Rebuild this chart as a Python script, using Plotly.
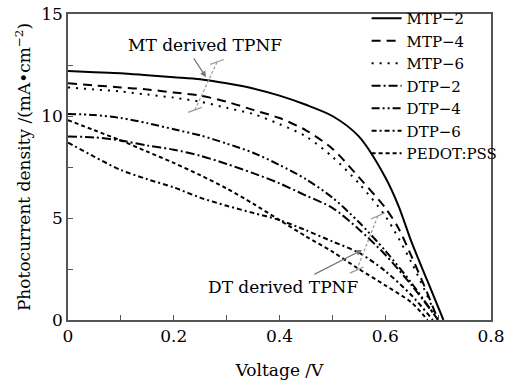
import plotly.graph_objects as go

# J-V curves of the devices (voltage in V, current density in mA/cm^2)
v_mtp2 = [0, 0.05, 0.1, 0.15, 0.2, 0.25, 0.3, 0.35, 0.4, 0.45, 0.5, 0.55, 0.6, 0.625, 0.65, 0.68, 0.71]
j_mtp2 = [12.2, 12.15, 12.1, 12.0, 11.9, 11.8, 11.6, 11.35, 11.0, 10.55, 10.0, 9.0, 7.0, 5.6, 3.8, 1.9, 0]

v_mtp4 = [0, 0.05, 0.1, 0.15, 0.2, 0.25, 0.3, 0.35, 0.4, 0.45, 0.5, 0.55, 0.6, 0.625, 0.65, 0.675, 0.70]
j_mtp4 = [11.6, 11.5, 11.4, 11.3, 11.15, 11.0, 10.7, 10.3, 9.9, 9.3, 8.4, 7.0, 5.5, 4.5, 3.1, 1.6, 0]

v_mtp6 = [0, 0.05, 0.1, 0.15, 0.2, 0.25, 0.3, 0.35, 0.4, 0.45, 0.5, 0.55, 0.6, 0.65, 0.70]
j_mtp6 = [11.4, 11.3, 11.2, 11.05, 10.9, 10.7, 10.4, 10.1, 9.6, 9.0, 8.0, 6.7, 5.1, 2.8, 0]

v_dtp2 = [0, 0.05, 0.1, 0.15, 0.2, 0.25, 0.3, 0.35, 0.4, 0.45, 0.5, 0.55, 0.6, 0.65, 0.70]
j_dtp2 = [9.0, 8.95, 8.8, 8.55, 8.35, 8.05, 7.65, 7.2, 6.7, 6.1, 5.5, 4.45, 3.2, 1.7, 0]

v_dtp4 = [0, 0.05, 0.1, 0.15, 0.2, 0.25, 0.3, 0.35, 0.4, 0.45, 0.5, 0.55, 0.6, 0.65, 0.70]
j_dtp4 = [10.1, 10.05, 9.9, 9.65, 9.35, 9.05, 8.65, 8.2, 7.6, 6.9, 6.0, 4.8, 3.4, 1.8, 0]

v_dtp6 = [0, 0.05, 0.1, 0.15, 0.2, 0.25, 0.3, 0.35, 0.4, 0.45, 0.5, 0.55, 0.6, 0.65, 0.69]
j_dtp6 = [8.7, 8.0, 7.35, 6.9, 6.5, 6.0, 5.6, 5.25, 4.9, 4.4, 3.85, 3.3, 2.4, 1.2, 0]

v_pedot = [0, 0.05, 0.1, 0.15, 0.2, 0.25, 0.3, 0.35, 0.4, 0.45, 0.5, 0.55, 0.6, 0.65, 0.68]
j_pedot = [9.8, 9.3, 8.8, 8.25, 7.7, 7.1, 6.45, 5.7, 4.9, 4.1, 3.35, 2.5, 1.7, 0.85, 0]

series = [
    ("MTP−2", v_mtp2, j_mtp2, "solid"),
    ("MTP−4", v_mtp4, j_mtp4, "9px,6px"),
    ("MTP−6", v_mtp6, j_mtp6, "2px,6px"),
    ("DTP−2", v_dtp2, j_dtp2, "9px,3px,2px,3px"),
    ("DTP−4", v_dtp4, j_dtp4, "8px,3px,2px,3px,2px,3px"),
    ("DTP−6", v_dtp6, j_dtp6, "5px,3px,2px,3px"),
    ("PEDOT:PSS", v_pedot, j_pedot, "4px,3px"),
]

SERIF = "DejaVu Serif"

fig = go.Figure()
for name, v, j, dash in series:
    fig.add_trace(go.Scatter(
        x=v, y=j, mode="lines", name=name,
        line=dict(color="black", width=2, dash=dash, shape="spline", smoothing=0.8),
    ))

gray = "#9a9a9a"
shapes = []


def bracket(x0, y0, x1, y1, cap_dx, cap_dy):
    shapes.append(dict(type="line", xref="x", yref="y", x0=x0, y0=y0, x1=x1, y1=y1,
                       line=dict(color=gray, width=1.2, dash="3px,2px")))
    for (xc, yc) in ((x0, y0), (x1, y1)):
        shapes.append(dict(type="line", xref="x", yref="y",
                           x0=xc - cap_dx, y0=yc - cap_dy, x1=xc + cap_dx, y1=yc + cap_dy,
                           line=dict(color=gray, width=1.2)))


# range markers across the two curve families
bracket(0.282, 12.65, 0.240, 10.3, 0.013, 0.12)
bracket(0.586, 5.1, 0.546, 2.45, 0.013, 0.15)

annotations = [
    dict(x=0.259, y=13.5, xref="x", yref="y", text="MT derived TPNF", showarrow=False,
         font=dict(family=SERIF, size=17, color="black")),
    dict(x=0.261, y=11.9, ax=0.236, ay=12.9, xref="x", yref="y", axref="x", ayref="y",
         text="", showarrow=True, arrowhead=2, arrowsize=1, arrowwidth=1.2, arrowcolor="#777"),
    dict(x=0.406, y=1.6, xref="x", yref="y", text="DT derived TPNF", showarrow=False,
         font=dict(family=SERIF, size=17, color="black")),
    dict(x=0.556, y=3.43, ax=0.463, ay=2.2, xref="x", yref="y", axref="x", ayref="y",
         text="", showarrow=True, arrowhead=2, arrowsize=1, arrowwidth=1.2, arrowcolor="#777"),
]

axis_common = dict(
    showline=True, linecolor="#555", linewidth=1.5, mirror=True,
    ticks="inside", ticklen=5, tickcolor="#555", tickwidth=1.2,
    showgrid=False, zeroline=False, automargin=False,
    tickfont=dict(family=SERIF, size=17, color="black"),
)

fig.update_layout(
    width=520, height=380,
    margin=dict(l=68, r=29, t=14, b=60, autoexpand=False),
    paper_bgcolor="white", plot_bgcolor="white",
    shapes=shapes, annotations=annotations,
    legend=dict(x=0.705, y=0.995, xref="container", yref="container",
                xanchor="left", yanchor="top",
                bgcolor="rgba(0,0,0,0)", borderwidth=0,
                font=dict(family=SERIF, size=15, color="black"),
                tracegroupgap=0, itemwidth=30),
    xaxis=dict(range=[0, 0.8], tickvals=[0, 0.2, 0.4, 0.6, 0.8],
               ticktext=["0", "0.2", "0.4", "0.6", "0.8"],
               minor=dict(tickvals=[0.1, 0.3, 0.5, 0.7], ticks="inside", ticklen=5, tickcolor="#555"),
               title=dict(text="Voltage /V", font=dict(family=SERIF, size=17, color="black"), standoff=20),
               **axis_common),
    yaxis=dict(range=[0, 15], tickvals=[0, 5, 10, 15],
               minor=dict(tickvals=[2.5, 7.5, 12.5], ticks="inside", ticklen=5, tickcolor="#555"),
               title=dict(text="Photocurrent density /(mA•cm<sup>−2</sup>)",
                          font=dict(family=SERIF, size=17, color="black"), standoff=6),
               **axis_common),
)

fig.write_html("out.html")
